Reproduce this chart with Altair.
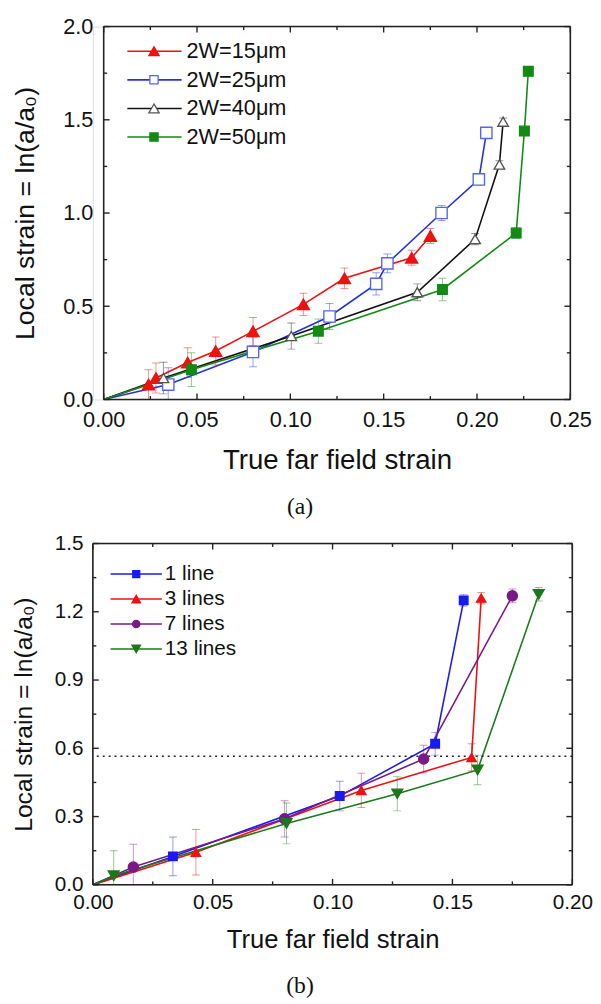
import altair as alt
import pandas as pd

# ---------------- Panel (a) data ----------------
A_SERIES = ["2W=15\u03bcm", "2W=25\u03bcm", "2W=40\u03bcm", "2W=50\u03bcm"]
A_X_15 = [0.0, 0.024, 0.028, 0.045, 0.060, 0.080, 0.107, 0.129, 0.165, 0.175]
A_Y_15 = [0.0, 0.08, 0.115, 0.198, 0.26, 0.365, 0.51, 0.65, 0.76, 0.877]
A_E_15 = [0.0, 0.08, 0.08, 0.08, 0.075, 0.075, 0.06, 0.055, 0.04, 0.04]
A_X_25 = [0.0, 0.0346, 0.080, 0.121, 0.146, 0.152, 0.181, 0.201, 0.205]
A_Y_25 = [0.0, 0.08, 0.255, 0.445, 0.62, 0.73, 1.0, 1.18, 1.43]
A_E_25 = [0.0, 0.09, 0.08, 0.07, 0.06, 0.05, 0.04, 0.03, 0.02]
A_X_40 = [0.0, 0.032, 0.1005, 0.168, 0.199, 0.212, 0.214]
A_Y_40 = [0.0, 0.115, 0.34, 0.575, 0.86, 1.26, 1.49]
A_E_40 = [0.0, 0.085, 0.07, 0.045, 0.03, 0.02, 0.02]
A_X_50 = [0.0, 0.047, 0.115, 0.1815, 0.221, 0.2254, 0.2275]
A_Y_50 = [0.0, 0.16, 0.366, 0.59, 0.893, 1.44, 1.76]
A_E_50 = [0.0, 0.09, 0.065, 0.06, 0.03, 0.01, 0.01]

A_X_MAJOR = [0.0, 0.05, 0.10, 0.15, 0.20, 0.25]
A_X_MINOR = [0.025, 0.075, 0.125, 0.175, 0.225]
A_Y_MAJOR = [0.0, 0.5, 1.0, 1.5, 2.0]
A_Y_MINOR = [0.25, 0.75, 1.25, 1.75]

# ---------------- Panel (b) data ----------------
B_SERIES = ["1 line", "3 lines", "7 lines", "13 lines"]
B_X_1 = [0.0, 0.0334, 0.103, 0.1428, 0.1547]
B_Y_1 = [0.0, 0.125, 0.39, 0.62, 1.25]
B_E_1 = [0.0, 0.085, 0.065, 0.05, 0.025]
B_X_3 = [0.0, 0.043, 0.112, 0.158, 0.162]
B_Y_3 = [0.0, 0.143, 0.415, 0.56, 1.26]
B_E_3 = [0.0, 0.10, 0.075, 0.06, 0.025]
B_X_7 = [0.0, 0.0169, 0.080, 0.138, 0.175]
B_Y_7 = [0.0, 0.078, 0.29, 0.553, 1.27]
B_E_7 = [0.0, 0.10, 0.08, 0.06, 0.03]
B_X_13 = [0.0, 0.0087, 0.0808, 0.127, 0.1605, 0.186]
B_Y_13 = [0.0, 0.04, 0.27, 0.40, 0.505, 1.277]
B_E_13 = [0.0, 0.11, 0.09, 0.075, 0.065, 0.03]
B_THRESHOLD = [0.565]

B_X_MAJOR = [0.0, 0.05, 0.10, 0.15, 0.20]
B_X_MINOR = [0.025, 0.075, 0.125, 0.175]
B_Y_MAJOR = [0.0, 0.3, 0.6, 0.9, 1.2, 1.5]
B_Y_MINOR = [0.15, 0.45, 0.75, 1.05, 1.35]

SANS = "Liberation Sans"
SERIF = "Liberation Serif"
YTITLE = "Local strain = ln(a/a\u2080)"
XTITLE = "True far field strain"
FRAME = "#222222"


def make_panel(series, xs, ys, es, colors, fills, strokes, shapes, sizes,
               xdom, ydom, xmaj, xmin, ymaj, ymin, W, H, x0,
               lab_fs, xt_fs, yt_fs, xlabpad, ylabpad, xtpad, ytpad,
               leg, caption, cap_dx, cap_off, extra=None):
    rows = []
    for s, X_, Y_, E_ in zip(series, xs, ys, es):
        for x, y, e in zip(X_, Y_, E_):
            rows.append({"series": s, "x": x, "y": y, "lo": y - e, "hi": y + e, "e": e})
    df = pd.DataFrame(rows)

    xsc = alt.Scale(domain=xdom, range=[x0, W], nice=False, zero=False, padding=0)
    ysc = alt.Scale(domain=ydom, nice=False, zero=False, padding=0)
    xax = alt.Axis(values=xmaj, format=".2f", ticks=False, domain=False, grid=False,
                   labelFlush=False, labelOverlap=False,
                   labelFont=SANS, labelFontSize=lab_fs, labelColor="#111",
                   labelPadding=xlabpad, title=XTITLE, titleFont=SANS,
                   titleFontSize=xt_fs, titleFontWeight="normal", titleColor="#111",
                   titlePadding=xtpad, titleX=(x0 + W) / 2)
    yax = alt.Axis(values=ymaj, format=".1f", ticks=False, domain=False, grid=False,
                   labelFlush=False, labelOverlap=False,
                   labelFont=SANS, labelFontSize=lab_fs, labelColor="#111",
                   labelPadding=ylabpad, title=YTITLE, titleFont=SANS,
                   titleFontSize=yt_fs, titleFontWeight="normal", titleColor="#111",
                   titlePadding=ytpad, offset=-x0)

    def X(f):
        return alt.X(f, scale=xsc, axis=xax)

    def Y(f):
        return alt.Y(f, scale=ysc, axis=yax)

    color = alt.Color("series:N", scale=alt.Scale(domain=series, range=colors), legend=None)
    base = alt.Chart(df)
    layers = []

    layers.append(base.mark_line(strokeWidth=1.6, clip=True).encode(
        x=X("x:Q"), y=Y("y:Q"), color=color, order=alt.Order("x:Q")))

    errs = base.transform_filter("datum.e > 0")
    layers.append(errs.mark_rule(strokeWidth=1, opacity=0.45, clip=True).encode(
        x=X("x:Q"), y=Y("lo:Q"), y2="hi:Q", color=color))
    for fld in ["lo", "hi"]:
        layers.append(errs.mark_tick(orient="horizontal", size=8, thickness=1,
                                     opacity=0.45, clip=True).encode(
            x=X("x:Q"), y=Y(fld + ":Q"), color=color))

    if extra is not None:
        layers.append(extra(Y, x0, W))

    layers.append(base.transform_filter("datum.x > 0").mark_point(
        filled=True, strokeWidth=1.4, opacity=1, clip=True).encode(
        x=X("x:Q"), y=Y("y:Q"),
        shape=alt.Shape("series:N", scale=alt.Scale(domain=series, range=shapes), legend=None),
        fill=alt.Fill("series:N", scale=alt.Scale(domain=series, range=fills), legend=None),
        stroke=alt.Stroke("series:N", scale=alt.Scale(domain=series, range=strokes), legend=None),
        size=alt.Size("series:N", scale=alt.Scale(domain=series, range=sizes), legend=None),
    ))

    # inward ticks on all four sides
    for vals, L in [(xmaj, 6), (xmin, 3.5)]:
        tc = alt.Chart(pd.DataFrame({"x": vals}))
        layers.append(tc.mark_rule(color=FRAME, strokeWidth=1.4).encode(
            x=X("x:Q"), y=alt.value(H), y2=alt.value(H - L)))
        layers.append(tc.mark_rule(color=FRAME, strokeWidth=1.4).encode(
            x=X("x:Q"), y=alt.value(0), y2=alt.value(L)))
    for vals, L in [(ymaj, 6), (ymin, 3.5)]:
        tc = alt.Chart(pd.DataFrame({"y": vals}))
        layers.append(tc.mark_rule(color=FRAME, strokeWidth=1.4).encode(
            y=Y("y:Q"), x=alt.value(x0), x2=alt.value(x0 + L)))
        layers.append(tc.mark_rule(color=FRAME, strokeWidth=1.4).encode(
            y=Y("y:Q"), x=alt.value(W), x2=alt.value(W - L)))

    # plot frame
    one = pd.DataFrame({"k": [0]})
    fc = alt.Chart(one)
    layers.append(fc.mark_rule(color=FRAME, strokeWidth=1.6).encode(
        x=alt.value(x0), x2=alt.value(W), y=alt.value(0)))
    layers.append(fc.mark_rule(color=FRAME, strokeWidth=1.6).encode(
        x=alt.value(x0), x2=alt.value(W), y=alt.value(H)))
    layers.append(fc.mark_rule(color=FRAME, strokeWidth=1.6).encode(
        x=alt.value(x0), y=alt.value(0), y2=alt.value(H)))
    layers.append(fc.mark_rule(color=FRAME, strokeWidth=1.6).encode(
        x=alt.value(W), y=alt.value(0), y2=alt.value(H)))

    # hand-drawn legend (line + marker + label)
    (ly0, dy, lx0, lx1, lxm, ltx, lfs, lsz) = leg
    for i, s in enumerate(series):
        yy = ly0 + i * dy
        lc = alt.Chart(one)
        layers.append(lc.mark_rule(strokeWidth=1.6, color=colors[i]).encode(
            x=alt.value(x0 + lx0), x2=alt.value(x0 + lx1), y=alt.value(yy)))
        layers.append(lc.mark_point(filled=True, strokeWidth=1.3, opacity=1,
                                    shape=shapes[i], fill=fills[i], stroke=strokes[i],
                                    size=lsz[i]).encode(
            x=alt.value(x0 + lxm), y=alt.value(yy)))
        layers.append(lc.mark_text(align="left", baseline="middle", font=SANS,
                                   fontSize=lfs, color="#111").encode(
            x=alt.value(x0 + ltx), y=alt.value(yy), text=alt.value(s)))

    return alt.layer(*layers).properties(
        width=W, height=H,
        title=alt.TitleParams(caption, orient="bottom", anchor="middle", font=SERIF,
                              fontSize=24, fontWeight="normal", color="#111",
                              dx=cap_dx, offset=cap_off),
    )


panel_a = make_panel(
    A_SERIES,
    [A_X_15, A_X_25, A_X_40, A_X_50],
    [A_Y_15, A_Y_25, A_Y_40, A_Y_50],
    [A_E_15, A_E_25, A_E_40, A_E_50],
    colors=["#ee1111", "#2233dd", "#111111", "#138a13"],
    fills=["#ee1111", "#ffffff", "#ffffff", "#138a13"],
    strokes=["#ee1111", "#5566ee", "#555555", "#138a13"],
    shapes=["triangle-up", "square", "triangle-up", "square"],
    sizes=[150, 95, 150, 100],
    xdom=[0, 0.25], ydom=[0, 2.0],
    xmaj=A_X_MAJOR, xmin=A_X_MINOR, ymaj=A_Y_MAJOR, ymin=A_Y_MINOR,
    W=484, H=378, x0=11,
    lab_fs=22, xt_fs=28, yt_fs=27, xlabpad=10, ylabpad=11, xtpad=17, ytpad=24,
    leg=(25, 29, 24, 79, 51, 84, 22, [110, 70, 110, 70]),
    caption="(a)", cap_dx=-32, cap_off=21,
)


def threshold(Y, x0, W):
    return alt.Chart(pd.DataFrame({"y": B_THRESHOLD})).mark_rule(
        color="#222", strokeWidth=1.4, strokeDash=[2, 4]).encode(y=Y("y:Q"))


panel_b = make_panel(
    B_SERIES,
    [B_X_1, B_X_3, B_X_7, B_X_13],
    [B_Y_1, B_Y_3, B_Y_7, B_Y_13],
    [B_E_1, B_E_3, B_E_7, B_E_13],
    colors=["#1a1aee", "#ee1111", "#7a1a88", "#1a7a1a"],
    fills=["#1a1aee", "#ee1111", "#7a1a88", "#1a7a1a"],
    strokes=["#1a1aee", "#ee1111", "#7a1a88", "#1a7a1a"],
    shapes=["square", "triangle-up", "circle", "triangle-down"],
    sizes=[75, 120, 80, 120],
    xdom=[0, 0.20], ydom=[0, 1.5],
    xmaj=B_X_MAJOR, xmin=B_X_MINOR, ymaj=B_Y_MAJOR, ymin=B_Y_MINOR,
    W=486, H=346, x0=0,
    lab_fs=21, xt_fs=26, yt_fs=25, xlabpad=7, ylabpad=10, xtpad=15, ytpad=18,
    leg=(31, 25.3, 18, 70, 44, 73, 21, [50, 75, 55, 75]),
    caption="(b)", cap_dx=-33, cap_off=22,
    extra=threshold,
)

chart = alt.ConcatChart(
    concat=[panel_a, panel_b], columns=1, spacing=12,
    padding={"left": 2, "top": 0, "right": 0, "bottom": 0},
).resolve_scale(
    color="independent", fill="independent", stroke="independent",
    shape="independent", size="independent",
).configure_view(strokeWidth=0).configure(background="white")

chart.save("out.html", embed_options={"renderer": "svg", "actions": False})
